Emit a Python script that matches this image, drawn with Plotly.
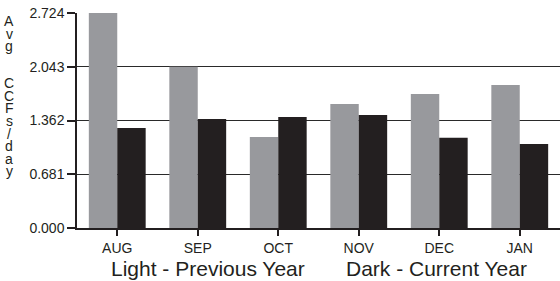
import plotly.graph_objects as go

months = ["AUG", "SEP", "OCT", "NOV", "DEC", "JAN"]
previous_year = [2.724, 2.043, 1.153, 1.571, 1.698, 1.812]
current_year = [1.267, 1.381, 1.406, 1.432, 1.144, 1.064]
y_ticks = [0.0, 0.681, 1.362, 2.043, 2.724]
y_tick_labels = ["0.000", "0.681", "1.362", "2.043", "2.724"]
y_title = "Avg  CCFs/day"

W, H = 560, 281
ML, MR, MT, MB = 77, 0, 13, 53
FONT = "Liberation Sans, Arial, sans-serif"

fig = go.Figure()
fig.add_bar(x=months, y=previous_year, marker=dict(color="#98999d", line=dict(width=0)), name="Previous")
fig.add_bar(x=months, y=current_year, marker=dict(color="#231f20", line=dict(width=0)), name="Current")

plot_h = H - MT - MB
plot_w = W - ML - MR
annotations = []
# stacked vertical axis title, one character per line
for i, ch in enumerate(y_title):
    if ch == " ":
        continue
    py = 21 + 12.5 * i
    annotations.append(dict(
        text=ch, xref="paper", yref="paper",
        x=-(ML - 9) / plot_w, y=(H - MB - py) / plot_h,
        xanchor="center", yanchor="middle", showarrow=False,
        font=dict(family=FONT, size=14, color="#231f20"),
    ))
for txt, cx in [("Light - Previous Year", 208), ("Dark - Current Year", 436.5)]:
    annotations.append(dict(
        text=txt, xref="paper", yref="paper",
        x=(cx - ML) / plot_w, y=(H - MB - 268) / plot_h,
        xanchor="center", yanchor="middle", showarrow=False,
        font=dict(family=FONT, size=21, color="#231f20"),
    ))

fig.update_layout(
    width=W, height=H,
    margin=dict(l=ML, r=MR, t=MT, b=MB, pad=0),
    paper_bgcolor="white", plot_bgcolor="white",
    barmode="group", bargap=0.294, bargroupgap=0,
    showlegend=False,
    font=dict(family=FONT, size=13, color="#231f20"),
    annotations=annotations,
)
fig.update_xaxes(
    showgrid=False, showline=True, linecolor="#231f20", linewidth=1.5,
    ticks="outside", ticklen=6, tickwidth=1.5, tickcolor="#231f20",
    tickfont=dict(family=FONT, size=14, color="#231f20"),
)
fig.update_yaxes(
    range=[0, 2.724], tickvals=y_ticks, ticktext=y_tick_labels,
    showgrid=True, gridcolor="#2a2a2a", gridwidth=1.4,
    showline=True, linecolor="#231f20", linewidth=1.5,
    ticks="outside", ticklen=8, tickwidth=1.5, tickcolor="#231f20",
    tickfont=dict(family=FONT, size=14, color="#231f20"),
    zeroline=False,
)

fig.write_html(
    "out.html",
    config={"displayModeBar": False},
    post_script="document.body.style.margin='0';document.body.style.padding='0';",
)
